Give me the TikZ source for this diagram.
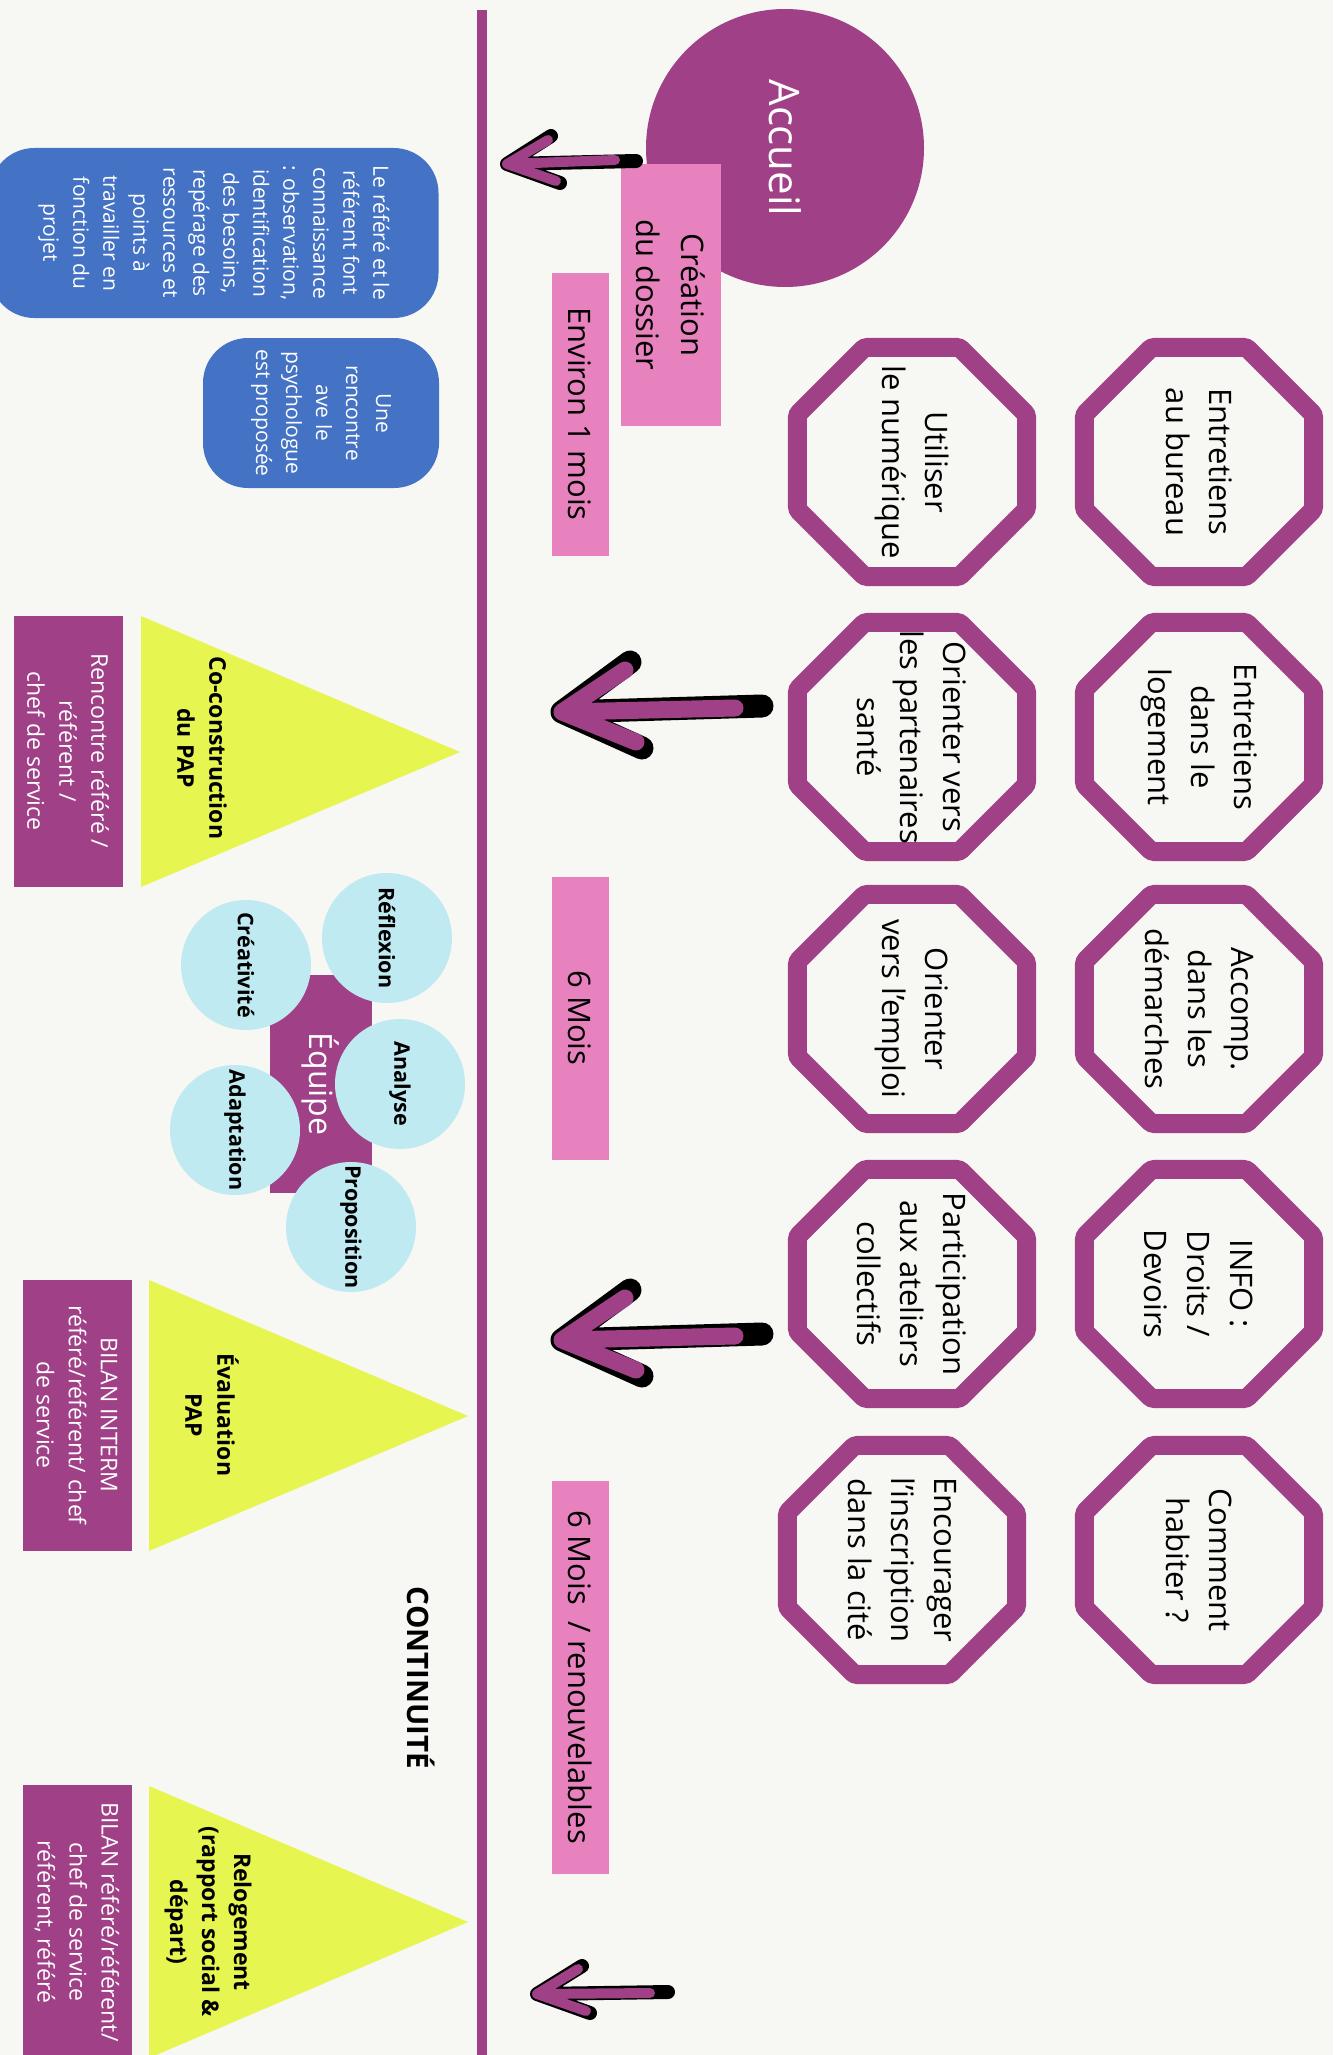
\documentclass[tikz,border=0pt]{standalone}
\usepackage{fontspec}
\setmainfont{Open Sans}
\usetikzlibrary{shapes.geometric}
\definecolor{plumc}{RGB}{160,65,136}
\definecolor{rosec}{RGB}{232,130,190}
\definecolor{bluec}{RGB}{68,114,196}
\definecolor{limec}{RGB}{230,245,80}
\definecolor{skyc}{RGB}{191,234,241}
\definecolor{paperc}{RGB}{247,247,243}
\tikzset{
  octa/.style={draw=plumc, line width=19pt, regular polygon, regular polygon sides=8, minimum size=248pt, inner sep=0pt, rounded corners=3pt},
  octatext/.style={rotate=-90, align=center, inner sep=0pt, font=\fontsize{31}{43}\selectfont},
  pinkbox/.style={fill=rosec, rotate=-90, align=center, inner sep=0pt, font=\fontsize{31}{45}\selectfont},
  bluenote/.style={fill=bluec, rounded corners=45pt, rotate=-90, align=center, inner sep=0pt, text=white, font=\fontsize{21}{30}\selectfont},
  tagbox/.style={fill=plumc, rotate=-90, align=center, inner sep=0pt, text=white, font=\fontsize{23}{32}\selectfont},
  tri/.style={fill=limec},
  trilabel/.style={rotate=-90, align=center, inner sep=0pt, font=\bfseries\fontsize{23}{32}\selectfont},
  bubble/.style={circle, fill=skyc, minimum size=130pt, inner sep=0pt, rotate=-90, font=\bfseries\fontsize{21.5}{26}\selectfont},
  arrowshadow/.style={draw=black, line cap=round, line join=round},
  arrowbody/.style={draw=plumc, line cap=round, line join=round}
}
\begin{document}
\begin{tikzpicture}[x=1pt,y=-1pt]
  \useasboundingbox (0,0) rectangle (1333,2055);
  \fill[paperc] (0,0) rectangle (1333,2055);

  % Timeline
  \coordinate (ltop) at (482,10);
  \coordinate (lbot) at (482,2065);
  \draw[plumc, line width=10pt] (ltop) -- (lbot);

  % Accueil
  \node[circle, fill=plumc, minimum size=278pt, inner sep=0pt, rotate=-90, text=white, font=\fontsize{42}{50}\selectfont] (accueil) at (785,148) {Accueil};
  \node[pinkbox, minimum width=262pt, minimum height=100pt] (dossier) at (671,295) {Création\\du dossier};

  % Durations
  \node[pinkbox, minimum width=283pt, minimum height=57pt] (mois1) at (580,414) {Environ 1 mois};
  \node[pinkbox, minimum width=283pt, minimum height=57pt] (mois6) at (580,1018) {6 Mois};
  \node[pinkbox, minimum width=393pt, minimum height=57pt] (moisr) at (580,1677) {6 Mois\ \ / renouvelables};

  % Notes
  \node[bluenote, minimum width=170pt, minimum height=449pt] (note1) at (214,233) {Le référé et le\\référent font\\connaissance\\: observation,\\identification\\des besoins,\\repérage des\\ressources et\\points à\\travailler en\\fonction du\\projet};
  \node[bluenote, minimum width=150pt, minimum height=236pt] (note2) at (321,413) {Une\\rencontre\\ave le\\psychologue\\est proposée};

  % Actions, right column
  \node[octa] (oa1) at (1199,462) {};
  \node[octatext] (ta1) at (oa1) {Entretiens\\au bureau};
  \node[octa] (oa2) at (1199,737) {};
  \node[octatext] (ta2) at (oa2) {Entretiens\\dans le\\logement};
  \node[octa] (oa3) at (1199,1009) {};
  \node[octatext] (ta3) at (oa3) {Accomp.\\dans les\\démarches};
  \node[octa] (oa4) at (1199,1284) {};
  \node[octatext] (ta4) at (oa4) {INFO :\\Droits /\\Devoirs};
  \node[octa] (oa5) at (1199,1560) {};
  \node[octatext] (ta5) at (oa5) {Comment\\habiter ?};

  % Actions, left column
  \node[octa] (ob1) at (912,462) {};
  \node[octatext] (tb1) at (ob1) {Utiliser\\le numérique};
  \node[octa] (ob2) at (912,737) {};
  \node[octatext] (tb2) at (ob2) {Orienter vers\\les partenaires\\santé};
  \node[octa] (ob3) at (912,1009) {};
  \node[octatext] (tb3) at (ob3) {Orienter\\vers l’emploi};
  \node[octa] (ob4) at (912,1284) {};
  \node[octatext] (tb4) at (ob4) {Participation\\aux ateliers\\collectifs};
  \node[octa] (ob5) at (902,1560) {};
  \node[octatext] (tb5) at (ob5) {Encourager\\l’inscription\\dans la cité};

  % Arrows
  \coordinate (a1tip) at (507,164);
  \draw[arrowshadow, line width=14pt] (551,136) -- (a1tip) -- (560,183) (a1tip) -- (636,161);
  \draw[arrowbody, line width=10pt] (548,140) -- (a1tip) -- (556,181) (a1tip) -- (615,160);
  \coordinate (a2tip) at (562,712);
  \draw[arrowshadow, line width=23pt] (630,662) -- (a2tip) -- (642,748) (a2tip) -- (762,706);
  \draw[arrowbody, line width=17pt] (625,670) -- (a2tip) -- (636,742) (a2tip) -- (735,708);
  \coordinate (a3tip) at (562,1340);
  \draw[arrowshadow, line width=23pt] (630,1290) -- (a3tip) -- (642,1376) (a3tip) -- (762,1334);
  \draw[arrowbody, line width=17pt] (625,1298) -- (a3tip) -- (636,1370) (a3tip) -- (735,1336);
  \coordinate (a4tip) at (537,1994);
  \draw[arrowshadow, line width=14pt] (582,1966) -- (a4tip) -- (590,2013) (a4tip) -- (668,1992);
  \draw[arrowbody, line width=10pt] (578,1969) -- (a4tip) -- (586,2011) (a4tip) -- (650,1993);

  % Stages
  \fill[tri] (141,616) -- (460,752) -- (141,887) -- cycle;
  \node[trilabel] (pap) at (202,748) {Co-construction\\du PAP};
  \node[tagbox, minimum width=271pt, minimum height=109pt] (tag1) at (68,751) {Rencontre référé /\\référent /\\chef de service};
  \fill[tri] (149,1280) -- (468,1416) -- (149,1551) -- cycle;
  \node[trilabel] (eval) at (212,1415) {Évaluation\\PAP};
  \node[tagbox, minimum width=271pt, minimum height=109pt] (tag2) at (77,1415) {BILAN INTERM\\référé/référent/ chef\\de service};
  \fill[tri] (149,1786) -- (468,1922) -- (149,2058) -- cycle;
  \node[trilabel] (reloge) at (208,1922) {Relogement\\(rapport social \&\\départ)};
  \node[tagbox, minimum width=275pt, minimum height=109pt] (tag3) at (77,1922) {BILAN référé/référent/\\chef de service\\référent, référé};

  % Team
  \node[fill=plumc, minimum width=218pt, minimum height=102pt, rotate=-90, text=white, font=\fontsize{32}{38}\selectfont] (equipe) at (321,1084) {Équipe};
  \node[bubble] (reflexion) at (387,938) {Réflexion};
  \node[bubble] (creativite) at (246,965) {Créativité};
  \node[bubble] (analyse) at (400,1084) {Analyse};
  \node[bubble] (adaptation) at (235,1130) {Adaptation};
  \node[bubble] (proposition) at (351,1227) {Proposition};

  \node[rotate=-90, inner sep=0pt, font=\bfseries\fontsize{29.5}{32}\selectfont] (continuite) at (421,1678) {CONTINUITÉ};
\end{tikzpicture}
\end{document}
